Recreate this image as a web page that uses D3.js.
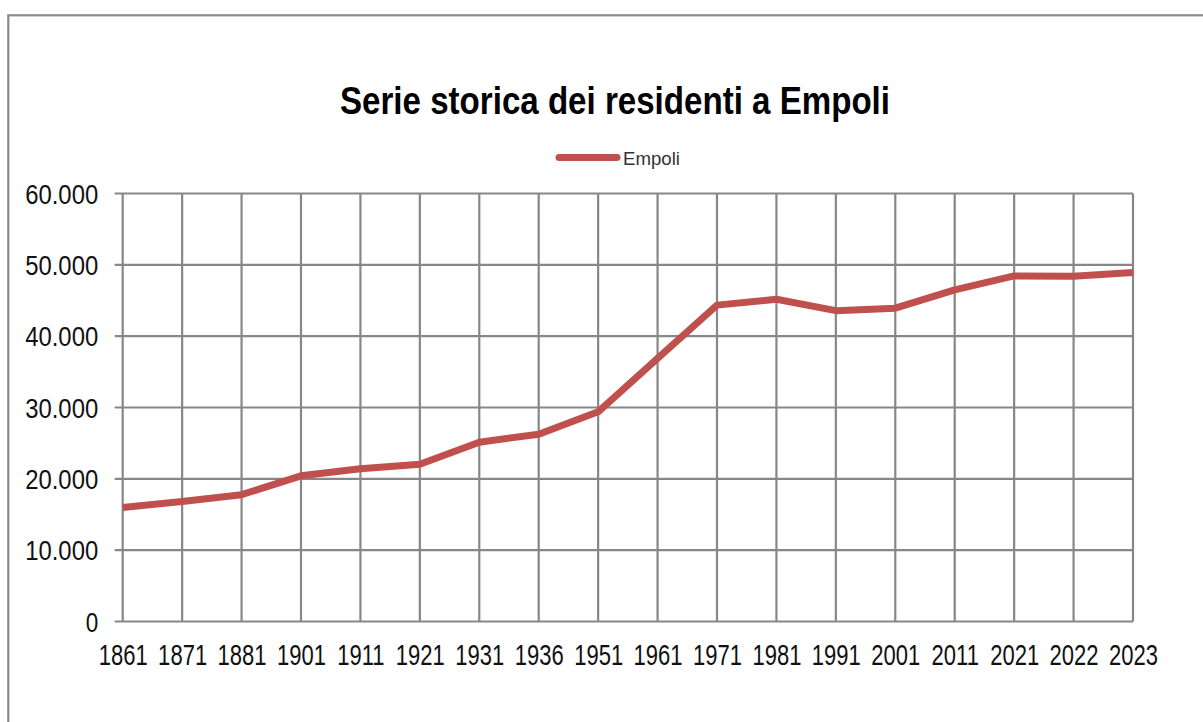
<!DOCTYPE html>
<html>
<head>
<meta charset="utf-8">
<script src="https://cdn.jsdelivr.net/npm/d3@7"></script>
<style>
  body { margin: 0; background: #fff; }
  svg { display: block; }
</style>
</head>
<body>
<div id="chart"></div>
<script>
// values
const years = ["1861", "1871", "1881", "1901", "1911", "1921", "1931", "1936", "1951",
  "1961", "1971", "1981", "1991", "2001", "2011", "2021", "2022", "2023"];
const residents = [15990, 16820, 17780, 20420, 21400, 22050, 25140, 26260, 29400,
  36900, 44350, 45170, 43580, 43920, 46500, 48450, 48400, 48930];
const yTicks = [0, 10000, 20000, 30000, 40000, 50000, 60000];
const seriesName = "Empoli";
const title = "Serie storica dei residenti a Empoli";

const width = 1203, height = 722;
const margin = { left: 122.7, right: 1133, top: 193.5, bottom: 621.5 };

const it = d3.formatLocale({ decimal: ",", thousands: ".", grouping: [3], currency: ["", " €"] });
const fmt = it.format(",d");

const svg = d3.select("#chart").append("svg")
  .attr("width", width)
  .attr("height", height)
  .style("font-family", "'Liberation Sans', Arial, sans-serif");

// outer frame (runs off the right and bottom edges)
svg.append("rect")
  .attr("x", 8.3).attr("y", 15.3)
  .attr("width", 1300).attr("height", 800)
  .attr("fill", "none")
  .attr("stroke", "#8a8a8a")
  .attr("stroke-width", 2.2);

const x = d3.scalePoint()
  .domain(years)
  .range([margin.left, margin.right]);

const y = d3.scaleLinear()
  .domain([0, 60000])
  .range([margin.bottom, margin.top]);

// grid
const grid = svg.append("g").attr("stroke", "#878787").attr("stroke-width", 2.2);
grid.selectAll("line.h")
  .data(yTicks)
  .join("line")
  .attr("class", "h")
  .attr("x1", margin.left - 8).attr("x2", margin.right)
  .attr("y1", d => y(d)).attr("y2", d => y(d));
grid.selectAll("line.v")
  .data(years)
  .join("line")
  .attr("class", "v")
  .attr("x1", d => x(d)).attr("x2", d => x(d))
  .attr("y1", margin.top).attr("y2", margin.bottom);

// y axis labels
const yAxis = svg.append("g")
  .attr("transform", `translate(${margin.left},0)`)
  .call(d3.axisLeft(y).tickValues(yTicks).tickFormat(fmt).tickSize(0).tickPadding(24.5));
yAxis.select(".domain").remove();
yAxis.selectAll("text")
  .attr("font-size", 27)
  .attr("fill", "#111")
  .attr("dy", "0.36em")
  .each(function (d) {
    const s = fmt(d);
    d3.select(this).attr("textLength", s.length === 1 ? 12.5 : 73)
      .attr("lengthAdjust", "spacingAndGlyphs");
  });

// x axis labels (narrowed, like the reference)
const xAxis = svg.append("g")
  .attr("transform", `translate(0,${margin.bottom})`)
  .call(d3.axisBottom(x).tickSize(0).tickPadding(23));
xAxis.select(".domain").remove();
xAxis.selectAll("text")
  .attr("font-size", 29)
  .attr("fill", "#111")
  .attr("transform", "scale(0.76,1)");

// series line
const line = d3.line()
  .x((d, i) => x(years[i]))
  .y(d => y(d));

svg.append("path")
  .datum(residents)
  .attr("d", line)
  .attr("fill", "none")
  .attr("stroke", "#c0504d")
  .attr("stroke-width", 7)
  .attr("stroke-linejoin", "round");

// title
svg.append("text")
  .attr("x", 615).attr("y", 114)
  .attr("text-anchor", "middle")
  .attr("font-size", 38)
  .attr("font-weight", "bold")
  .attr("fill", "#000")
  .attr("textLength", 550)
  .attr("lengthAdjust", "spacingAndGlyphs")
  .text(title);

// legend
const legend = svg.append("g");
legend.append("line")
  .attr("x1", 559).attr("x2", 617)
  .attr("y1", 157.5).attr("y2", 157.5)
  .attr("stroke", "#c0504d")
  .attr("stroke-width", 7)
  .attr("stroke-linecap", "round");
legend.append("text")
  .attr("x", 623).attr("y", 165)
  .attr("font-size", 19)
  .attr("fill", "#333")
  .attr("textLength", 57)
  .attr("lengthAdjust", "spacingAndGlyphs")
  .text(seriesName);
</script>
</body>
</html>
